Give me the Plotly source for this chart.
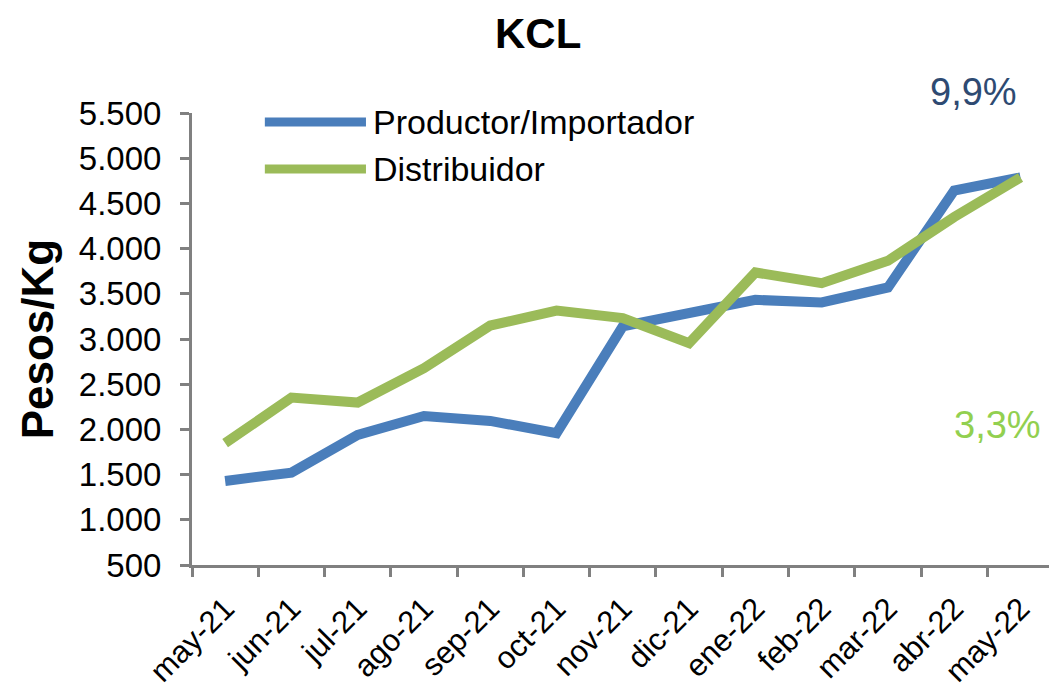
import plotly.graph_objects as go

meses = ['may-21', 'jun-21', 'jul-21', 'ago-21', 'sep-21', 'oct-21', 'nov-21',
         'dic-21', 'ene-22', 'feb-22', 'mar-22', 'abr-22', 'may-22']
productor = [1430, 1522, 1939, 2149, 2094, 1958, 3140, 3286, 3433, 3404, 3570, 4643, 4787]
distribuidor = [1847, 2352, 2297, 2677, 3149, 3315, 3231, 2954, 3736, 3618, 3865, 4349, 4787]
series_names = ['Productor/Importador', 'Distribuidor']
var_labels = ['9,9%', '3,3%']

AZUL = '#4A7EBB'
VERDE = '#9BBB59'
GRIS = '#808080'
FONT = 'Liberation Sans, Arial, sans-serif'

fig = go.Figure()
for name, vals, color in zip(series_names, [productor, distribuidor], [AZUL, VERDE]):
    fig.add_trace(go.Scatter(x=meses, y=vals, name=name, mode='lines',
                             line=dict(color=color, width=10), showlegend=False))

# manual legend (long line samples like the original)
for i, (name, color) in enumerate(zip(series_names, [AZUL, VERDE])):
    yy = 0.980 - i * 0.104
    fig.add_shape(type='line', xref='paper', yref='paper', x0=0.085, x1=0.203,
                  y0=yy, y1=yy, line=dict(color=color, width=9))
    fig.add_annotation(text=name, xref='paper', yref='paper', x=0.209, y=yy,
                       xanchor='left', yanchor='middle', showarrow=False,
                       font=dict(size=34, color='black', family=FONT))

# variation labels
fig.add_annotation(text=var_labels[0], xref='paper', yref='paper', x=0.9114, y=1.046,
                   xanchor='center', yanchor='middle', showarrow=False,
                   font=dict(size=38, color='#2E4A72', family=FONT))
fig.add_annotation(text=var_labels[1], xref='paper', yref='paper', x=0.9394, y=0.3097,
                   xanchor='center', yanchor='middle', showarrow=False,
                   font=dict(size=38, color='#92D050', family=FONT))

# y-axis title
fig.add_annotation(text='<b>Pesos/Kg</b>', xref='paper', yref='paper', x=-0.1805, y=0.5,
                   xanchor='center', yanchor='middle', textangle=-90, showarrow=False,
                   font=dict(size=44, color='black', family=FONT))

fig.update_layout(
    width=1049, height=688,
    paper_bgcolor='white', plot_bgcolor='white',
    margin=dict(l=192, r=0, t=113, b=123),
    separators=',.',
    title=dict(text='<b>KCL</b>', x=0.513, y=0.952, xanchor='center', yanchor='middle',
               font=dict(size=42, color='black', family=FONT)),
    xaxis=dict(type='category', range=[-0.5, 12.43], tickson='boundaries',
               automargin=False,
               showline=True, linecolor=GRIS, linewidth=3,
               ticks='outside', ticklen=9, tickwidth=3, tickcolor=GRIS,
               showgrid=False, zeroline=False, tickangle=-45, ticklabelstandoff=10,
               tickfont=dict(size=31, color='black', family=FONT)),
    yaxis=dict(range=[500, 5500], dtick=500, tickformat=',d', automargin=False,
               showline=True, linecolor=GRIS, linewidth=3,
               ticks='outside', ticklen=9, tickwidth=3, tickcolor=GRIS,
               showgrid=False, zeroline=False, ticklabelstandoff=12,
               tickfont=dict(size=33, color='black', family=FONT)),
)

# drop the default page margin so the figure fills the window exactly
fig.write_html("out.html", config={'displayModeBar': False},
               post_script="document.body.style.margin='0';")
